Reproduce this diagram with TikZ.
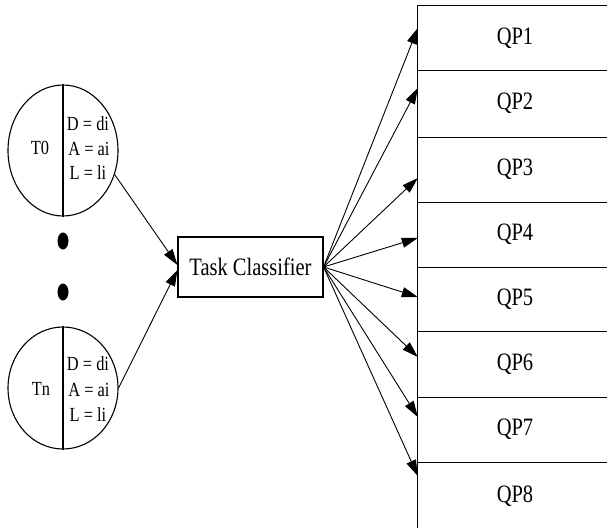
\documentclass[tikz,border=0pt]{standalone}
\usepackage{fontspec}
\setmainfont{Liberation Serif}[FakeStretch=0.82]
\usetikzlibrary{shapes.geometric,arrows.meta}
\begin{document}
\begin{tikzpicture}[x=1pt,y=-1pt,
  arr/.style={-{Triangle[length=16pt,width=10pt]}, line width=0.9pt},
  ell/.style={draw, ellipse, line width=1.1pt, minimum width=110pt, inner sep=0pt},
  small/.style={font=\fontsize{20}{24}\selectfont, inner sep=0pt},
  big/.style={font=\fontsize{25}{30}\selectfont},
  dot/.style={fill=black, ellipse, minimum width=11pt, minimum height=17pt, inner sep=0pt},
  qp/.style={minimum width=194pt, inner sep=0pt, font=\fontsize{25}{30}\selectfont},
  qpline/.style={line width=1.1pt}]
\useasboundingbox (0,0) rectangle (607,527);
\clip (0,0) rectangle (607,527);
% task ellipses
\node[ell, minimum height=131pt] (t0) at (63,150.5) {};
\node[ell, minimum height=122pt] (tn) at (63,388) {};
\draw[line width=1.1pt] (t0.north) -- (t0.south);
\draw[line width=1.1pt] (tn.north) -- (tn.south);
\node[small] (t0name) at (40,148) {T0};
\node[small] (t0d) at (88,124) {D = di};
\node[small] (t0a) at (89,149) {A = ai};
\node[small] (t0l) at (88,173) {L = li};
\node[small] (tnname) at (41,389) {Tn};
\node[small] (tnd) at (88,364) {D = di};
\node[small] (tna) at (89,390) {A = ai};
\node[small] (tnl) at (88,415) {L = li};
% dots
\node[dot] (dot1) at (63,241) {};
\node[dot] (dot2) at (63,292) {};
% classifier
\node[draw, line width=1.1pt, big, minimum width=145pt, minimum height=60pt, inner sep=0pt] (tc) at (250.5,267) {Task Classifier};
% queues
\node[qp, minimum height=64pt] (qp1) at (515,38) {QP1};
\node[qp, minimum height=67pt] (qp2) at (515,103.5) {QP2};
\node[qp, minimum height=65pt] (qp3) at (515,169.5) {QP3};
\node[qp, minimum height=65pt] (qp4) at (515,234.5) {QP4};
\node[qp, minimum height=64pt] (qp5) at (515,299) {QP5};
\node[qp, minimum height=66pt] (qp6) at (515,364) {QP6};
\node[qp, minimum height=65pt] (qp7) at (515,429.5) {QP7};
\node[qp, minimum height=68pt] (qp8) at (515,496) {QP8};
\draw[qpline] ([xshift=40pt]qp1.north east) -- (qp1.north west) -- (qp8.south west);
\foreach \i in {1,...,7} {
  \draw[qpline] (qp\i.south west) -- ([xshift=40pt]qp\i.south east);
}
% arrows in
\draw[arr] (t0.-25) -- ([yshift=2pt]tc.west);
\draw[arr] (tn.east) -- ([yshift=-3pt]tc.west);
% arrows out
\draw[arr] (tc.east) -- ([yshift=10pt]qp1.west);
\draw[arr] (tc.east) -- ([yshift=15.5pt]qp2.west);
\draw[arr] (tc.east) -- ([yshift=-8.5pt]qp3.west);
\draw[arr] (tc.east) -- ([yshift=-3.5pt]qp4.west);
\draw[arr] (tc.east) -- ([yshift=2pt]qp5.west);
\draw[arr] (tc.east) -- ([yshift=7pt]qp6.west);
\draw[arr] (tc.east) -- ([yshift=12.5pt]qp7.west);
\draw[arr] (tc.east) -- ([yshift=20pt]qp8.west);
\end{tikzpicture}
\end{document}
